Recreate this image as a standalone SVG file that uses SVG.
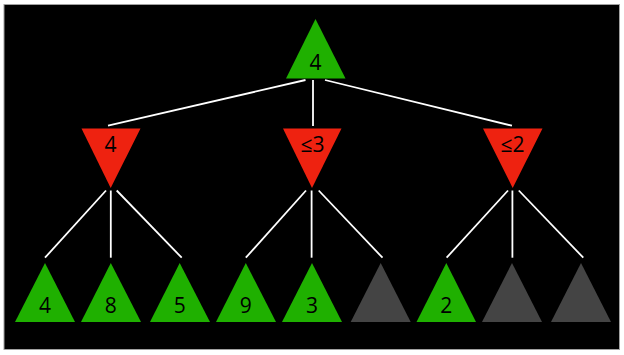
<svg xmlns="http://www.w3.org/2000/svg" width="624" height="355" viewBox="0 0 624 355">
<style>
.g{fill:#1fb000}
.r{fill:#ee2210}
.k{fill:#444444}
.t{font-family:"Open Sans","DejaVu Sans",sans-serif;font-size:21px;fill:#000;text-anchor:middle}
.e line{stroke:#ffffff;stroke-width:1.8}
</style>
<rect x="0" y="0" width="624" height="355" fill="#ffffff"/>
<rect x="4" y="4.5" width="615.5" height="345" fill="#000000" stroke="#a0a0a0" stroke-width="1"/>
<g class="e" id="connectors">
<line x1="305.5" y1="80" x2="108" y2="125.7"/>
<line x1="313" y1="80" x2="313" y2="126"/>
<line x1="325" y1="80" x2="512" y2="125.7"/>
<line x1="106" y1="190.5" x2="45" y2="257.7"/>
<line x1="110.8" y1="190.5" x2="110.8" y2="257.7"/>
<line x1="116.7" y1="190.5" x2="181.7" y2="257.7"/>
<line x1="306" y1="190.5" x2="245.8" y2="257.7"/>
<line x1="311.6" y1="190.5" x2="311.6" y2="257.7"/>
<line x1="318.7" y1="190.5" x2="382.5" y2="257.7"/>
<line x1="508" y1="190.5" x2="446.6" y2="257.7"/>
<line x1="512.4" y1="190.5" x2="512.4" y2="257.7"/>
<line x1="518.8" y1="190.5" x2="583.3" y2="257.7"/>
</g>
<g id="root"><polygon class="g" points="315.5,19 286,78.5 345.5,78.5"/><text class="t" x="315.5" y="69.5">4</text></g>
<g id="min1"><polygon class="r" points="81.5,128.5 140.5,128.5 110.7,188"/><text class="t" x="110.5" y="152">4</text></g>
<g id="min2"><polygon class="r" points="283,128.5 341.5,128.5 312,188"/><text class="t" x="312.5" y="152">≤3</text></g>
<g id="min3"><polygon class="r" points="483,128.5 542.5,128.5 512.7,188"/><text class="t" x="512.5" y="152">≤2</text></g>
<g id="leaf1"><polygon class="g" points="45,263 15,322 75,322"/><text class="t" x="45" y="312.5">4</text></g>
<g id="leaf2"><polygon class="g" points="110.8,263 81,322 141,322"/><text class="t" x="110.8" y="312.5">8</text></g>
<g id="leaf3"><polygon class="g" points="179.7,263 150,322 210,322"/><text class="t" x="179.7" y="312.5">5</text></g>
<g id="leaf4"><polygon class="g" points="245.8,263 216,322 276,322"/><text class="t" x="245.8" y="312.5">9</text></g>
<g id="leaf5"><polygon class="g" points="312,263 282,322 342,322"/><text class="t" x="312" y="312.5">3</text></g>
<g id="leaf6"><polygon class="k" points="380.7,263 350.7,322 410.7,322"/></g>
<g id="leaf7"><polygon class="g" points="446.3,263 416.5,322 476,322"/><text class="t" x="446.3" y="312.5">2</text></g>
<g id="leaf8"><polygon class="k" points="512,263 482,322 542,322"/></g>
<g id="leaf9"><polygon class="k" points="581,263 551,322 611,322"/></g>
</svg>
